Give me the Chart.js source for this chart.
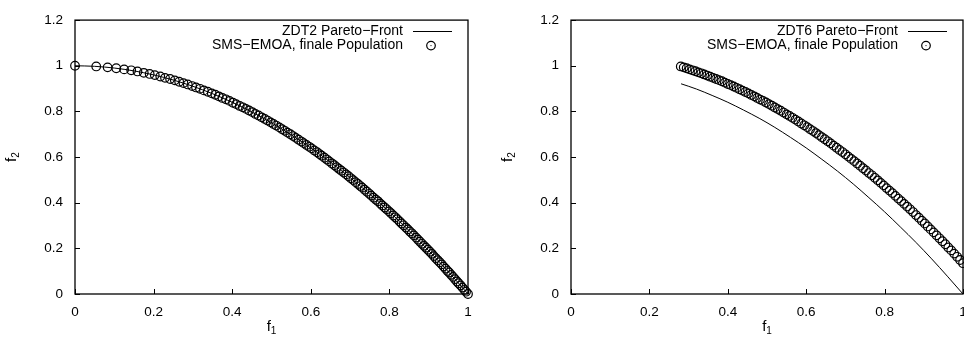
<!DOCTYPE html>
<html>
<head>
<meta charset="utf-8">
<script src="https://cdn.jsdelivr.net/npm/chart.js@4.4.0/dist/chart.umd.min.js"></script>
<style>
html, body { margin: 0; padding: 0; background: #fff; overflow: hidden; width: 964px; height: 340px; }
.box { position: absolute; top: 0; height: 340px; }
#leftBox { left: 0; width: 482px; }
#rightBox { left: 482px; width: 500px; }
</style>
</head>
<body>
<div class="box" id="leftBox"><canvas id="zdt2"></canvas></div>
<div class="box" id="rightBox"><canvas id="zdt6"></canvas></div>
<script>
// achsen
var xTicks = [0, 0.2, 0.4, 0.6, 0.8, 1];
var yTicks = [0, 0.2, 0.4, 0.6, 0.8, 1, 1.2];

// ZDT2 Pareto-Front
var zdt2Labels = ['ZDT2 Pareto\u2212Front', 'SMS\u2212EMOA, finale Population'];
var zdt2FrontF1 = [0, 0.05, 0.1, 0.15, 0.2, 0.25, 0.3, 0.35, 0.4, 0.45, 0.5, 0.55, 0.6, 0.65, 0.7, 0.75, 0.8, 0.85, 0.9, 0.95, 1];
var zdt2FrontF2 = [1, 0.9975, 0.99, 0.9775, 0.96, 0.9375, 0.91, 0.8775, 0.84, 0.7975, 0.75, 0.6975, 0.64, 0.5775, 0.51, 0.4375, 0.36, 0.2775, 0.19, 0.0975, 0];
var zdt2PopF1 = [0, 0.054, 0.083, 0.105, 0.125, 0.143, 0.159, 0.175, 0.190, 0.203, 0.217, 0.229, 0.242, 0.254, 0.265, 0.276,
    0.287, 0.298, 0.308, 0.318, 0.328, 0.338, 0.348, 0.357, 0.366, 0.375, 0.384, 0.393, 0.402, 0.410, 0.419, 0.427,
    0.435, 0.443, 0.451, 0.459, 0.467, 0.475, 0.483, 0.490, 0.498, 0.505, 0.512, 0.520, 0.527, 0.534, 0.541, 0.548,
    0.555, 0.562, 0.569, 0.576, 0.582, 0.589, 0.596, 0.602, 0.609, 0.616, 0.622, 0.628, 0.635, 0.641, 0.647, 0.654,
    0.660, 0.666, 0.672, 0.678, 0.684, 0.690, 0.696, 0.702, 0.708, 0.714, 0.720, 0.726, 0.731, 0.737, 0.743, 0.749,
    0.754, 0.760, 0.766, 0.771, 0.777, 0.782, 0.788, 0.793, 0.799, 0.804, 0.810, 0.815, 0.820, 0.826, 0.831, 0.836,
    0.842, 0.847, 0.852, 0.857, 0.862, 0.868, 0.873, 0.878, 0.883, 0.888, 0.893, 0.898, 0.903, 0.908, 0.913, 0.918,
    0.923, 0.928, 0.933, 0.938, 0.943, 0.948, 0.952, 0.957, 0.962, 0.967, 0.972, 0.976, 0.981, 0.986, 0.991, 0.995, 1.000];
var zdt2PopF2 = [1.000, 0.997, 0.993, 0.989, 0.984, 0.980, 0.975, 0.969, 0.964, 0.959, 0.953, 0.947, 0.942, 0.936, 0.930, 0.924,
    0.918, 0.911, 0.905, 0.899, 0.892, 0.886, 0.879, 0.873, 0.866, 0.859, 0.853, 0.846, 0.838, 0.832, 0.824, 0.818,
    0.811, 0.804, 0.797, 0.789, 0.782, 0.774, 0.767, 0.760, 0.752, 0.745, 0.738, 0.730, 0.722, 0.715, 0.707, 0.700,
    0.692, 0.684, 0.676, 0.668, 0.661, 0.653, 0.645, 0.638, 0.629, 0.621, 0.613, 0.606, 0.597, 0.589, 0.581, 0.572,
    0.564, 0.556, 0.548, 0.540, 0.532, 0.524, 0.516, 0.507, 0.499, 0.490, 0.482, 0.473, 0.466, 0.457, 0.448, 0.439,
    0.431, 0.422, 0.413, 0.406, 0.396, 0.388, 0.379, 0.371, 0.362, 0.354, 0.344, 0.336, 0.328, 0.318, 0.309, 0.301,
    0.291, 0.283, 0.274, 0.266, 0.257, 0.247, 0.238, 0.229, 0.220, 0.211, 0.203, 0.194, 0.185, 0.176, 0.166, 0.157,
    0.148, 0.139, 0.130, 0.120, 0.111, 0.101, 0.094, 0.084, 0.075, 0.065, 0.055, 0.047, 0.038, 0.028, 0.018, 0.010, 0.000];

// ZDT6 Pareto-Front
var zdt6Labels = ['ZDT6 Pareto\u2212Front', 'SMS\u2212EMOA, finale Population'];
var zdt6FrontF1 = [0.2808, 0.32, 0.36, 0.40, 0.44, 0.48, 0.52, 0.56, 0.60, 0.64, 0.68, 0.72, 0.76, 0.80, 0.84, 0.88, 0.92, 0.96, 1.0];
var zdt6FrontF2 = [0.921, 0.898, 0.870, 0.840, 0.806, 0.770, 0.730, 0.686, 0.640, 0.590, 0.538, 0.482, 0.422, 0.360, 0.294, 0.226, 0.154, 0.078, 0];
var zdt6PopF1 = [0.280, 0.2875, 0.295, 0.3025, 0.310, 0.3175, 0.325, 0.3325, 0.340, 0.3475, 0.355, 0.3625, 0.370, 0.3775, 0.385, 0.3925,
    0.400, 0.4075, 0.415, 0.4225, 0.430, 0.4375, 0.445, 0.4525, 0.460, 0.4675, 0.475, 0.4825, 0.490, 0.4975, 0.505, 0.5125,
    0.520, 0.5275, 0.535, 0.5425, 0.550, 0.5575, 0.565, 0.5725, 0.580, 0.5875, 0.595, 0.6025, 0.610, 0.6175, 0.625, 0.6325,
    0.640, 0.6475, 0.655, 0.6625, 0.670, 0.6775, 0.685, 0.6925, 0.700, 0.7075, 0.715, 0.7225, 0.730, 0.7375, 0.745, 0.7525,
    0.760, 0.7675, 0.775, 0.7825, 0.790, 0.7975, 0.805, 0.8125, 0.820, 0.8275, 0.835, 0.8425, 0.850, 0.8575, 0.865, 0.8725,
    0.880, 0.8875, 0.895, 0.9025, 0.910, 0.9175, 0.925, 0.9325, 0.940, 0.9475, 0.955, 0.9625, 0.970, 0.9775, 0.985, 0.9925, 1.000];
var zdt6PopF2 = [0.997, 0.993, 0.989, 0.984, 0.980, 0.976, 0.971, 0.967, 0.962, 0.957, 0.952, 0.947, 0.942, 0.937, 0.932, 0.926,
    0.920, 0.915, 0.909, 0.903, 0.897, 0.891, 0.885, 0.879, 0.872, 0.866, 0.859, 0.852, 0.846, 0.839, 0.832, 0.825,
    0.817, 0.810, 0.803, 0.795, 0.787, 0.780, 0.772, 0.764, 0.756, 0.747, 0.739, 0.731, 0.722, 0.714, 0.705, 0.696,
    0.687, 0.678, 0.669, 0.660, 0.650, 0.641, 0.631, 0.622, 0.612, 0.602, 0.592, 0.582, 0.572, 0.562, 0.551, 0.541,
    0.530, 0.520, 0.509, 0.498, 0.487, 0.476, 0.464, 0.453, 0.442, 0.430, 0.418, 0.407, 0.395, 0.383, 0.371, 0.359,
    0.346, 0.334, 0.321, 0.309, 0.296, 0.283, 0.270, 0.257, 0.244, 0.231, 0.218, 0.204, 0.191, 0.177, 0.163, 0.149, 0.135];

var FONT = '"Liberation Sans", Arial, Helvetica, sans-serif';

function pts(xs, ys) {
    return xs.map(function(x, i) { return {x: x, y: ys[i]}; });
}

// rahmen + ticks nach innen (gnuplot stil)
const frame = {
    id: 'frame',
    beforeDatasetsDraw(chart) {
        const ctx = chart.ctx, a = chart.chartArea;
        const xs = chart.scales.x, ys = chart.scales.y;
        ctx.save();
        ctx.strokeStyle = '#000';
        ctx.lineWidth = 1.3;
        ctx.strokeRect(a.left, a.top, a.right - a.left, a.bottom - a.top);
        ctx.lineWidth = 1;
        ctx.beginPath();
        xs.ticks.forEach(function(t) {
            var px = Math.round(xs.getPixelForValue(t.value)) + 0.5;
            ctx.moveTo(px, a.bottom); ctx.lineTo(px, a.bottom - 5);
        });
        ys.ticks.forEach(function(t) {
            var py = Math.round(ys.getPixelForValue(t.value)) + 0.5;
            ctx.moveTo(a.left, py); ctx.lineTo(a.left + 5, py);
        });
        ctx.stroke();
        ctx.restore();
    }
};

function subText(ctx, x, y, main, sub) {
    ctx.font = '15px ' + FONT;
    var w1 = ctx.measureText(main).width;
    ctx.font = '10px ' + FONT;
    var w2 = ctx.measureText(sub).width;
    var start = x - (w1 + w2) / 2;
    ctx.font = '15px ' + FONT;
    ctx.fillText(main, start, y);
    ctx.font = '10px ' + FONT;
    ctx.fillText(sub, start + w1, y + 3);
}

// achsentitel f1 / f2 und legende
const gnuKey = {
    id: 'gnuKey',
    afterDraw(chart, args, opts) {
        const ctx = chart.ctx, a = chart.chartArea;
        ctx.save();
        ctx.fillStyle = '#000';
        ctx.strokeStyle = '#000';
        ctx.textAlign = 'left';
        ctx.textBaseline = 'alphabetic';
        subText(ctx, (a.left + a.right) / 2, 331, 'f', '1');
        ctx.save();
        ctx.translate(a.left - 59, (a.top + a.bottom) / 2);
        ctx.rotate(-Math.PI / 2);
        subText(ctx, 0, 0, 'f', '2');
        ctx.restore();

        ctx.font = '14px ' + FONT;
        ctx.textAlign = 'right';
        ctx.textBaseline = 'middle';
        var tx = a.right - 65;
        var r1 = a.top + 11, r2 = a.top + 25.5;
        ctx.fillText(opts.labels[0], tx, r1);
        ctx.lineWidth = 1;
        ctx.beginPath();
        ctx.moveTo(a.right - 55, Math.round(r1) + 0.5);
        ctx.lineTo(a.right - 16, Math.round(r1) + 0.5);
        ctx.stroke();
        ctx.fillText(opts.labels[1], tx, r2);
        var mx = a.right - 37;
        ctx.lineWidth = 1.2;
        ctx.beginPath();
        ctx.arc(mx, r2, 4.3, 0, Math.PI * 2);
        ctx.stroke();
        ctx.fillRect(mx - 0.5, r2 - 0.5, 1, 1);
        ctx.restore();
    }
};

function makeChart(id, front, pop, labels, yAxisWidth, padRight) {
    return new Chart(document.getElementById(id).getContext('2d'), {
        type: 'scatter',
        data: {
            datasets: [
                {
                    label: labels[1],
                    data: pop,
                    pointStyle: 'circle',
                    pointRadius: 4.3,
                    pointBorderWidth: 1.2,
                    pointBorderColor: '#000',
                    pointBackgroundColor: 'rgba(0,0,0,0)',
                    clip: false,
                    order: 0
                },
                {
                    label: labels[0],
                    data: front,
                    showLine: true,
                    borderColor: '#000',
                    borderWidth: 1,
                    pointRadius: 0,
                    cubicInterpolationMode: 'monotone',
                    order: 1
                }
            ]
        },
        options: {
            responsive: true,
            maintainAspectRatio: false,
            animation: false,
            events: [],
            layout: { padding: { left: 0, right: padRight, top: 13, bottom: 0 } },
            plugins: {
                legend: { display: false },
                tooltip: { enabled: false },
                gnuKey: { labels: labels }
            },
            scales: {
                x: {
                    type: 'linear',
                    min: 0, max: 1,
                    afterBuildTicks: function(s) { s.ticks = xTicks.map(function(v) { return {value: v}; }); },
                    afterFit: function(s) { s.height = 46; },
                    grid: { display: false, drawTicks: false },
                    border: { display: false },
                    ticks: {
                        padding: 10,
                        color: '#000',
                        font: { family: FONT, size: 13.5 },
                        maxRotation: 0,
                        callback: function(v) { return String(+v.toFixed(1)); }
                    }
                },
                y: {
                    type: 'linear',
                    min: 0, max: 1.2,
                    afterBuildTicks: function(s) { s.ticks = yTicks.map(function(v) { return {value: v}; }); },
                    afterFit: function(s) { s.width = yAxisWidth; },
                    grid: { display: false, drawTicks: false },
                    border: { display: false },
                    ticks: {
                        padding: 12,
                        color: '#000',
                        font: { family: FONT, size: 13.5 },
                        callback: function(v) { return String(+v.toFixed(1)); }
                    }
                }
            }
        },
        plugins: [frame, gnuKey]
    });
}

makeChart('zdt2', pts(zdt2FrontF1, zdt2FrontF2), pts(zdt2PopF1, zdt2PopF2), zdt2Labels, 75, 14);
makeChart('zdt6', pts(zdt6FrontF1, zdt6FrontF2), pts(zdt6PopF1, zdt6PopF2), zdt6Labels, 89, 19);
</script>
</body>
</html>
